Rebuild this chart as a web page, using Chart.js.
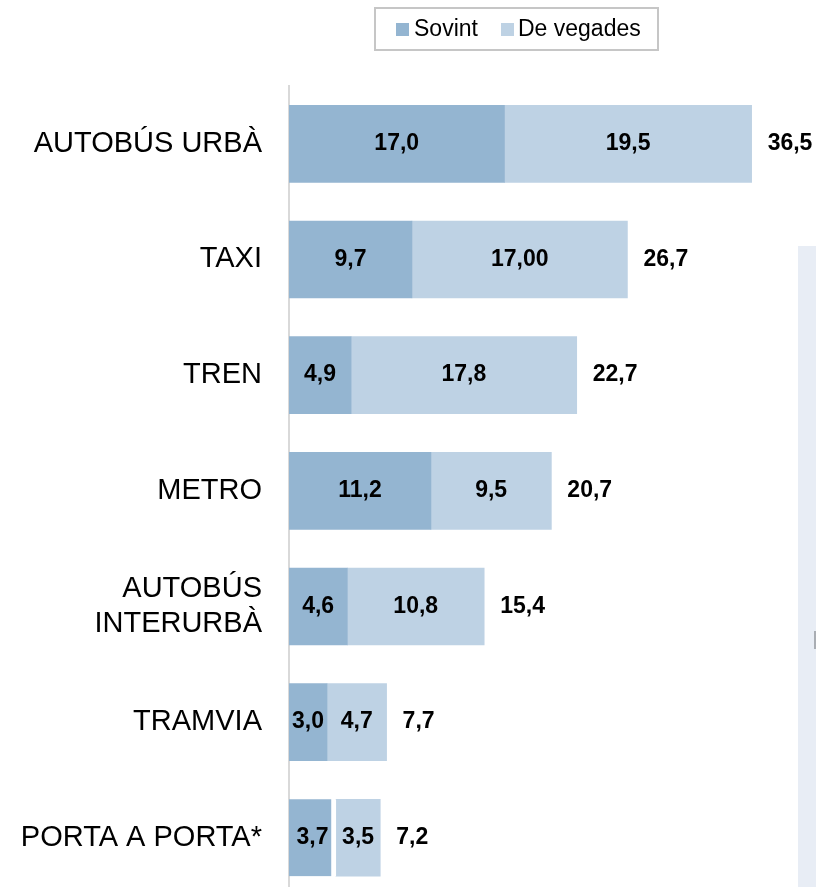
<!DOCTYPE html>
<html lang="ca">
<head>
  <meta charset="UTF-8">
  <title>Ús del transport</title>
  <script src="https://cdn.jsdelivr.net/npm/chart.js"></script>
  <style>
    html, body { margin: 0; padding: 0; background: #fff; overflow: hidden; }
    #wrap { position: relative; width: 816px; height: 940px; }
  </style>
</head>
<body>
  <div id="wrap">
    <canvas id="usChart" width="816" height="940"></canvas>
  </div>

  <script>
    const categories = ['AUTOBÚS URBÀ', 'TAXI', 'TREN', 'METRO', ['AUTOBÚS', 'INTERURBÀ'], 'TRAMVIA', 'PORTA A PORTA*'];
    const sovint = [17.0, 9.7, 4.9, 11.2, 4.6, 3.0, 3.7];
    const deVegades = [19.5, 17.0, 17.8, 9.5, 10.8, 4.7, 3.5];
    // decimals shown in the value labels of each series
    const sovintDecimals = [1, 1, 1, 1, 1, 1, 1];
    const deVegadesDecimals = [1, 2, 1, 1, 1, 1, 1];

    const colSovint = '#94b5d1';
    const colDeVegades = '#bed2e4';
    const FONT = 'Arial, "Liberation Sans", sans-serif';

    function fmt(v, d) {
      return v.toFixed(d).replace('.', ',');
    }

    const valueLabels = {
      id: 'valueLabels',
      beforeDraw(chart) {
        const ctx = chart.ctx;
        ctx.save();
        // pale panel at the right edge
        ctx.fillStyle = '#e8edf5';
        ctx.fillRect(798, 246, 18, chart.height - 246);
        ctx.fillStyle = '#a9adb3';
        ctx.fillRect(814, 631, 2, 18);
        ctx.restore();
      },
      afterDatasetsDraw(chart) {
        const ctx = chart.ctx;
        const m0 = chart.getDatasetMeta(0);
        const m1 = chart.getDatasetMeta(1);
        ctx.save();
        ctx.fillStyle = '#000';
        ctx.font = 'bold 23px ' + FONT;
        ctx.textBaseline = 'middle';
        categories.forEach((c, i) => {
          const b0 = m0.data[i], b1 = m1.data[i];
          ctx.textAlign = 'center';
          ctx.fillText(fmt(sovint[i], sovintDecimals[i]), (b0.base + b0.x) / 2, b0.y);
          ctx.fillText(fmt(deVegades[i], deVegadesDecimals[i]), (b1.base + b1.x) / 2, b1.y);
          ctx.textAlign = 'left';
          const total = sovint[i] + deVegades[i];
          ctx.fillText(fmt(total, 1), b1.x + 16, b1.y);
        });
        ctx.restore();
      },
      afterDraw(chart) {
        // legend box
        const ctx = chart.ctx;
        ctx.save();
        ctx.strokeStyle = '#c6c6c6';
        ctx.lineWidth = 2;
        ctx.strokeRect(375, 8, 283, 42);
        ctx.font = '23px ' + FONT;
        ctx.textBaseline = 'middle';
        ctx.textAlign = 'left';
        ctx.fillStyle = colSovint;
        ctx.fillRect(396, 23, 13, 13);
        ctx.fillStyle = colDeVegades;
        ctx.fillRect(501, 23, 13, 13);
        ctx.fillStyle = '#000';
        ctx.fillText(chart.data.datasets[0].label, 414, 30);
        ctx.fillText(chart.data.datasets[1].label, 518, 30);
        ctx.restore();
      }
    };

    new Chart(document.getElementById('usChart'), {
      type: 'bar',
      data: {
        labels: categories,
        datasets: [
          {
            label: 'Sovint',
            data: sovint,
            backgroundColor: colSovint,
            borderColor: '#fff',
            borderWidth: ctx => ctx.dataIndex === 6 ? { right: 5 } : 0,
            borderSkipped: 'start'
          },
          {
            label: 'De vegades',
            data: deVegades,
            backgroundColor: colDeVegades,
            borderWidth: 0
          }
        ]
      },
      options: {
        indexAxis: 'y',
        responsive: false,
        devicePixelRatio: 1,
        animation: false,
        layout: { padding: { top: 86, right: 20, bottom: 5, left: 0 } },
        datasets: { bar: { barThickness: 77 } },
        plugins: {
          legend: { display: false },
          tooltip: { enabled: false }
        },
        scales: {
          x: {
            stacked: true,
            display: false,
            min: 0,
            max: 40
          },
          y: {
            stacked: true,
            grid: { display: false, drawTicks: false },
            border: { display: true, color: '#d9d9d9', width: 2 },
            ticks: {
              color: '#000',
              padding: 27,
              font: { family: FONT, size: 29, lineHeight: 1.2 }
            },
            afterFit(scale) { scale.width = 289; }
          }
        }
      },
      plugins: [valueLabels]
    });
  </script>
</body>
</html>
